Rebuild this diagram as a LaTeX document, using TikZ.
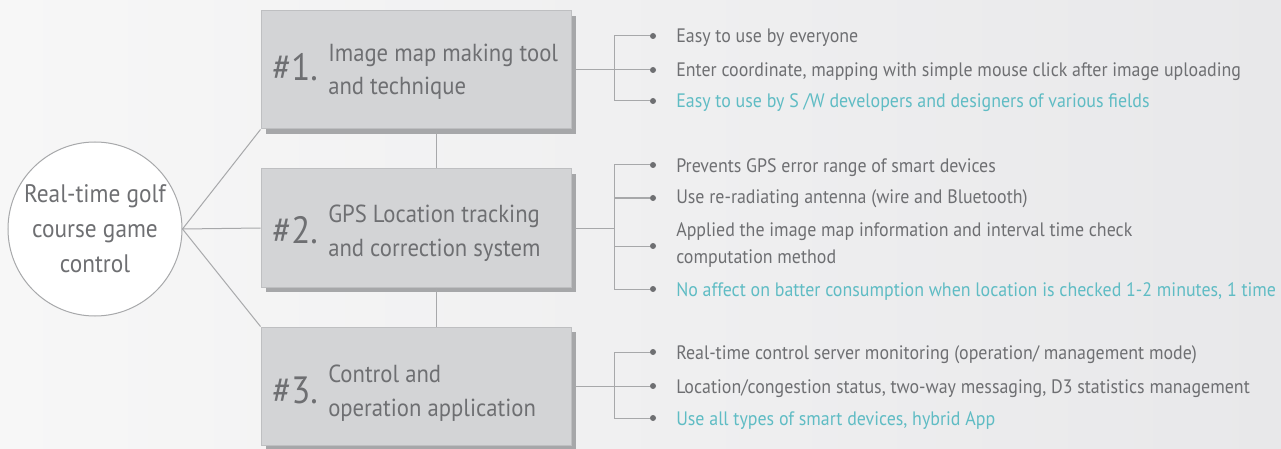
\documentclass[tikz,border=0pt]{standalone}
\usepackage{fontspec}
\setmainfont{PT Sans}[FakeStretch=0.92]
\usetikzlibrary{shadows}
\definecolor{txtgrey}{HTML}{6E6F72}
\definecolor{tealtxt}{HTML}{5FBCC4}
\definecolor{linegrey}{HTML}{A7A8AA}
\definecolor{boxfill}{HTML}{D3D4D6}
\definecolor{boxborder}{HTML}{BEBFC1}
\definecolor{shadowgrey}{HTML}{A6A7A9}
\definecolor{bgleft}{HTML}{F7F7F7}
\definecolor{bgright}{HTML}{E8E8EA}
\tikzset{
 box/.style={draw=boxborder, line width=0.75pt, fill=boxfill, minimum width=232.5pt, minimum height=88.5pt, inner sep=0pt,
   drop shadow={shadow xshift=3.75pt, shadow yshift=-3.75pt, fill=shadowgrey, opacity=1}},
 num/.style={anchor=base west, inner sep=0pt, text=txtgrey, font=\fontsize{28.5}{28.5}\selectfont},
 btxt/.style={anchor=base west, inner sep=0pt, text=txtgrey, font=\fontsize{18.5}{18.5}\selectfont},
 item/.style={anchor=base west, inner sep=0pt, text=txtgrey, font=\fontsize{14.6}{20.25}\selectfont, align=left},
 hl/.style={item, text=tealtxt},
 conn/.style={draw=linegrey, line width=0.75pt},
 dotmark/.style={circle, fill=txtgrey, minimum size=4.5pt, inner sep=0pt},
}
\begin{document}
\begin{tikzpicture}[x=0.75pt,y=-0.75pt]
\shade[left color=bgleft, right color=bgright] (0,0) rectangle (1281,449);
\useasboundingbox (0,0) rectangle (1281,449);
\coordinate (vx) at (436,0);
\coordinate (brk) at (614,0);

% centre circle
\node[circle, draw=linegrey, line width=0.75pt, fill=white, minimum size=130.5pt, inner sep=0pt, align=center,
  text=txtgrey, font=\fontsize{19}{26.25}\selectfont] (c) at (95,229) {Real-time golf\\course game\\control};

% boxes
\node[box] (b1) at (416,70) {};
\node[box] (b2) at (416,228) {};
\node[box] (b3) at (416,386) {};

\node[num] (n1) at (272,81) {\#1.};
\node[btxt] (t11) at (328,62) {Image map making tool};
\node[btxt] (t12) at (328,95) {and technique};
\node[num] (n2) at (272,243) {\#2.};
\node[btxt] (t21) at (328,222) {GPS Location tracking};
\node[btxt] (t22) at (328,256) {and correction system};
\node[num] (n3) at (272,403) {\#3.};
\node[btxt] (t31) at (328,382) {Control and};
\node[btxt] (t32) at (328,416) {operation application};

% circle to boxes
\draw[conn] (c.east) -- (b1.south west);
\draw[conn] (c.east) -- (b2.west);
\draw[conn] (c.east) -- (b3.north west);
\draw[conn] (b1.south -| vx) -- (b2.north -| vx);
\draw[conn] (b2.south -| vx) -- (b3.north -| vx);

% items box 1
\node[dotmark] (d11) at (653,36) {};
\node[dotmark] (d12) at (653,70) {};
\node[dotmark] (d13) at (653,101) {};
\node[item] (i11) at (676,43) {Easy to use by everyone};
\node[item] (i12) at (676,77) {Enter coordinate, mapping with simple mouse click after image uploading};
\node[hl] (i13) at (676,108) {Easy to use by S /W developers and designers of various fields};
\draw[conn] (b1.east) -- (b1.east -| brk);
\draw[conn] (brk |- d11) -- (brk |- d13);
\foreach \d in {d11,d12,d13} \draw[conn] (brk |- \d) -- (\d);

% items box 2
\node[dotmark] (d21) at (653,165) {};
\node[dotmark] (d22) at (653,198) {};
\node[dotmark] (d23) at (653,246) {};
\node[dotmark] (d24) at (653,289) {};
\node[item] (i21) at (676,172) {Prevents GPS error range of smart devices};
\node[item] (i22) at (676,204) {Use re-radiating antenna (wire and Bluetooth)};
\node[item] (i23) at (676,263) {Applied the image map information and interval time check\\computation method};
\node[hl] (i24) at (676,296) {No affect on batter consumption when location is checked 1-2 minutes, 1 time};
\draw[conn] (b2.east) -- (b2.east -| brk);
\draw[conn] (brk |- d21) -- (brk |- d24);
\foreach \d in {d21,d22,d23,d24} \draw[conn] (brk |- \d) -- (\d);

% items box 3
\node[dotmark] (d31) at (653,352) {};
\node[dotmark] (d32) at (653,386) {};
\node[dotmark] (d33) at (653,418) {};
\node[item] (i31) at (676,359) {Real-time control server monitoring (operation/ management mode)};
\node[item] (i32) at (676,393) {Location/congestion status, two-way messaging, D3 statistics management};
\node[hl] (i33) at (676,425) {Use all types of smart devices, hybrid App};
\draw[conn] (b3.east) -- (b3.east -| brk);
\draw[conn] (brk |- d31) -- (brk |- d33);
\foreach \d in {d31,d32,d33} \draw[conn] (brk |- \d) -- (\d);
\end{tikzpicture}
\end{document}
